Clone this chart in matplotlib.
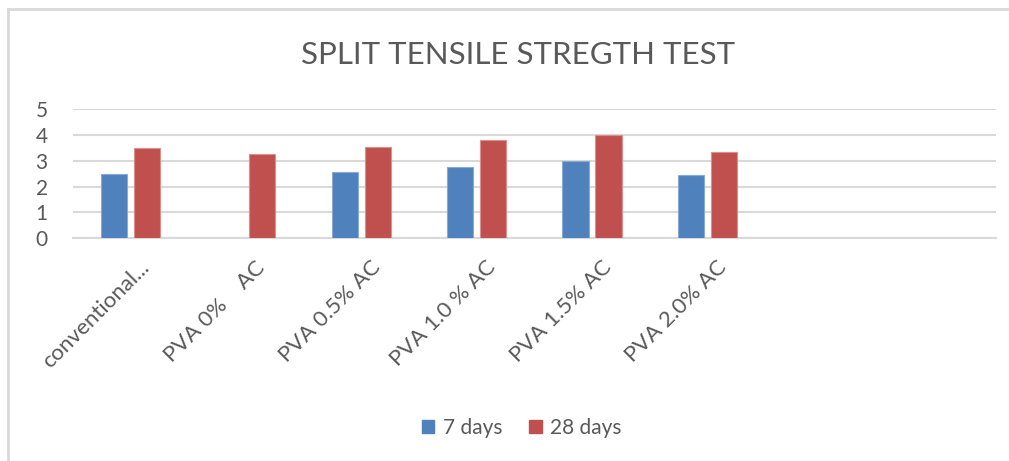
import numpy as np
import matplotlib
matplotlib.use("Agg")
import matplotlib.pyplot as plt
import matplotlib.transforms as mtransforms
from matplotlib.lines import Line2D
from matplotlib.patches import Patch

plt.rcParams['font.family'] = ['Lato', 'DejaVu Sans']

categories = ['conventional...', 'PVA 0%    AC', 'PVA 0.5% AC', 'PVA 1.0 % AC',
              'PVA 1.5% AC', 'PVA 2.0% AC', '', '']
days7 = [2.5, np.nan, 2.55, 2.75, 3.0, 2.43, np.nan, np.nan]
days28 = [3.47, 3.24, 3.52, 3.78, 3.99, 3.33, np.nan, np.nan]

blue = '#4f81bd'
red = '#c0504d'
grey_txt = '#595959'
grid_c = '#d9d9d9'

fig = plt.figure(figsize=(10.09, 4.61), dpi=100)
ax = fig.add_axes([0.072, 0.483, 0.915, 0.281])

x = np.arange(len(categories))
w = 0.226
off = 0.143
ax.bar(x - off, days7, w, color=blue, edgecolor='#8aaad6', linewidth=0.8, label='7 days', zorder=3)
ax.bar(x + off, days28, w, color=red, edgecolor='#dc8f8d', linewidth=0.8, label='28 days', zorder=3)

ax.set_xlim(-0.5, len(categories) - 0.5)
ax.set_ylim(0, 5)
ax.set_yticks(range(0, 6))
ax.yaxis.grid(True, color=grid_c, linewidth=1.5, zorder=0)
for s in ['top', 'right', 'left']:
    ax.spines[s].set_visible(False)
ax.spines['bottom'].set_color(grid_c)
ax.spines['bottom'].set_linewidth(1.5)
ax.tick_params(axis='y', length=0, colors=grey_txt, labelsize=15, pad=18)
ax.tick_params(axis='x', length=0, colors=grey_txt, labelsize=16)

ax.set_xticks(x)
ax.set_xticklabels(categories, rotation=45, ha='right', va='top', rotation_mode='anchor')
shift = mtransforms.ScaledTranslation(9 / 100, -14 / 100, fig.dpi_scale_trans)
for lab in ax.get_xticklabels():
    lab.set_transform(lab.get_transform() + shift)

fig.text(0.513, 0.88, 'SPLIT TENSILE STREGTH TEST', ha='center', va='center',
         fontsize=22.5, color=grey_txt)

handles = [Patch(color=blue, label='7 days'), Patch(color=red, label='28 days')]
fig.legend(handles=handles, loc='center', bbox_to_anchor=(0.517, 0.072), ncol=2,
           frameon=False, fontsize=15, labelcolor=grey_txt, handlelength=0.6,
           handleheight=0.6, handletextpad=0.4, columnspacing=1.3)

# chart frame (top and left edges)
fig.add_artist(Line2D([8 / 1009, 8 / 1009], [0, 1 - 9 / 461], color=grid_c, linewidth=2,
                      transform=fig.transFigure))
fig.add_artist(Line2D([8 / 1009, 1], [1 - 9 / 461, 1 - 9 / 461], color=grid_c, linewidth=2,
                      transform=fig.transFigure))

fig.savefig('out.png', dpi=100)
